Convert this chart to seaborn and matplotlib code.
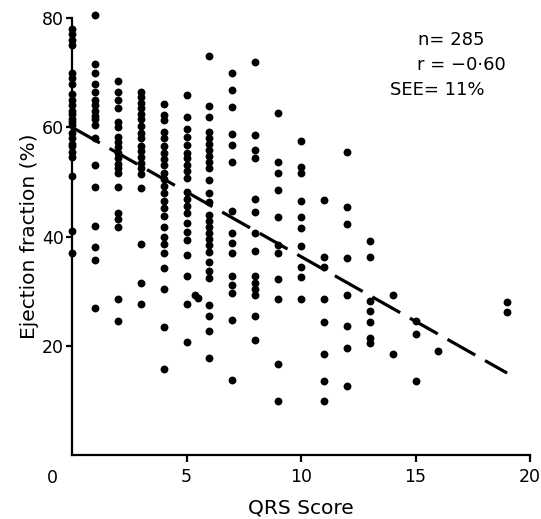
import matplotlib
matplotlib.use("Agg")
import matplotlib.pyplot as plt
import numpy as np
import pandas as pd
import seaborn as sns

# ---- data (QRS score -> ejection fraction %) ----
ef_q0 = [78, 77, 76, 75, 70, 69, 68, 66, 65, 64, 63, 62.5, 61.5, 61, 60.5,
         59, 58, 57, 56.5, 55.5, 54.5, 51, 41, 37]
ef_q1 = [80.5, 71.5, 70, 68, 66.5, 65, 64, 63, 62, 61.5, 60.5, 58, 53, 49,
         42, 38, 35.7, 27]
ef_q2 = [68.5, 66.5, 65, 63.5, 61, 60, 58.3, 57.3, 56.3, 55.3, 54.3, 53.3,
         52.5, 51.6, 49, 44.3, 43.2, 41.8, 28.5, 24.6]
ef_q3 = [66.5, 65.5, 64.5, 63.5, 62.5, 61.5, 60.2, 59, 58, 56.5, 55.7, 54.5,
         53.5, 52.5, 51.5, 48.8, 38.7, 31.5, 27.6]
ef_q4 = [64.3, 62.3, 61.4, 59.2, 58, 56.5, 55.3, 54.1, 53, 51.6, 50.5, 49.3,
         48, 46.5, 45.3, 43.7, 41.7, 40, 38.7, 37, 34.2, 30.3, 23.5, 15.8]
ef_q5 = [65.9, 61.9, 59.7, 58.3, 56.8, 55.2, 54.3, 53.1, 51.9, 50.7, 48.2,
         46.9, 45.6, 44.3, 42.4, 40.9, 39.4, 36.6, 32.7, 27.7, 20.7]
ef_q6 = [73.1, 63.9, 61.8, 59.2, 58.1, 57, 55.9, 54.8, 53.7, 52.5, 50.4,
         47.9, 46.4, 44, 42.8, 41.7, 40.6, 39.5, 38.4, 37.2, 35.3, 33.6, 32.4,
         27.5, 25.5, 22.7, 17.7]
ef_q7 = [69.9, 66.8, 63.7, 58.7, 56.8, 53.7, 44.6, 40.6, 38.8, 36.9, 32.7,
         31.2, 29.6, 24.7, 13.8]
ef_q8 = [72.0, 58.6, 55.8, 54.3, 46.8, 44.4, 40.6, 37.4, 32.7, 31.5, 30.4,
         29.3, 25.5, 21.0]
ef_q9 = [62.7, 53.7, 51.7, 48.5, 43.5, 38.5, 36.9, 32.2, 28.6, 16.7, 9.9]
ef_q10 = [57.5, 52.8, 51.6, 46.5, 43.5, 41.5, 38.3, 34.4, 32.5, 28.5]
ef_q11 = [46.7, 36.3, 34.5, 28.5, 24.4, 18.5, 13.6, 9.8]
ef_q12 = [55.4, 45.4, 42.3, 36.1, 29.2, 23.7, 19.6, 12.7]
ef_q13 = [39.2, 36.3, 28.2, 26.3, 24.3, 21.5, 20.5]
ef_q14 = [29.3, 18.5]
ef_q15 = [24.5, 22.2, 13.6]
ef_q16 = [19.1]
ef_q19 = [28.0, 26.2]
# a pair of overlapping dots printed slightly right of score 5
extra_qrs = [5.35, 5.5]
extra_ef = [29.2, 28.8]

scores = [0, 1, 2, 3, 4, 5, 6, 7, 8, 9, 10, 11, 12, 13, 14, 15, 16, 19]
columns = [ef_q0, ef_q1, ef_q2, ef_q3, ef_q4, ef_q5, ef_q6, ef_q7, ef_q8,
           ef_q9, ef_q10, ef_q11, ef_q12, ef_q13, ef_q14, ef_q15, ef_q16, ef_q19]

# regression line end points
line_x = [0, 19]
line_y = [60, 15]

x_ticks = [5, 10, 15, 20]
y_ticks = [20, 40, 60, 80]
stats_lines = ["n= 285", "r = \u22120\u00b760", "SEE= 11%"]

qrs_all, ef_all = [], []
for s, col in zip(scores, columns):
    qrs_all += [s] * len(col)
    ef_all += col
qrs_all += extra_qrs
ef_all += extra_ef
df = pd.DataFrame({"qrs": qrs_all, "ef": ef_all})

# ---- figure ----
sns.set_theme(style="ticks")
plt.rcParams["font.family"] = ["DejaVu Sans"]

W, H = 541, 519
fig = plt.figure(figsize=(W / 100, H / 100), dpi=100)
left, right, top, bottom = 72, 530, 18, 455
ax = fig.add_axes([left / W, 1 - bottom / H, (right - left) / W, (bottom - top) / H])

sns.scatterplot(data=df, x="qrs", y="ef", color="black", s=32, linewidth=0,
                ax=ax, clip_on=False, zorder=3, legend=False)
sns.lineplot(x=line_x, y=line_y, color="black", ax=ax, linewidth=2.3,
             zorder=2)
ax.lines[-1].set_linestyle((0, (10, 3.5)))
ax.lines[-1].set_solid_capstyle("butt")

ax.set_xlim(0, 20)
ax.set_ylim(0, 80)
ax.set_xticks(x_ticks)
ax.set_xticklabels([str(v) for v in x_ticks])
ax.set_yticks(y_ticks)
ax.set_yticklabels([str(v) for v in y_ticks])
sns.despine(ax=ax)
for sp in ("left", "bottom"):
    ax.spines[sp].set_linewidth(1.6)
    ax.spines[sp].set_color("black")
ax.tick_params(axis="both", direction="out", width=1.6, color="black",
               labelsize=12.5, labelcolor="black")
ax.tick_params(axis="x", length=5, pad=4)
ax.tick_params(axis="y", length=4, pad=2)

ax.set_xlabel("QRS Score", fontsize=14.5, color="black", labelpad=9)
ax.set_ylabel("Ejection fraction (%)", fontsize=14.5, color="black", labelpad=2)

# origin label, printed left of the axis corner
fig.text(52 / W, 1 - 478 / H, "0", fontsize=12.5, ha="center", va="center",
         color="black")

# statistics
stat_pos = [(418, 40), (417, 65), (390, 90)]
for (px, py), txt in zip(stat_pos, stats_lines):
    fig.text(px / W, 1 - py / H, txt, fontsize=13, ha="left", va="center",
             color="black")

fig.savefig("out.png", dpi=100)
